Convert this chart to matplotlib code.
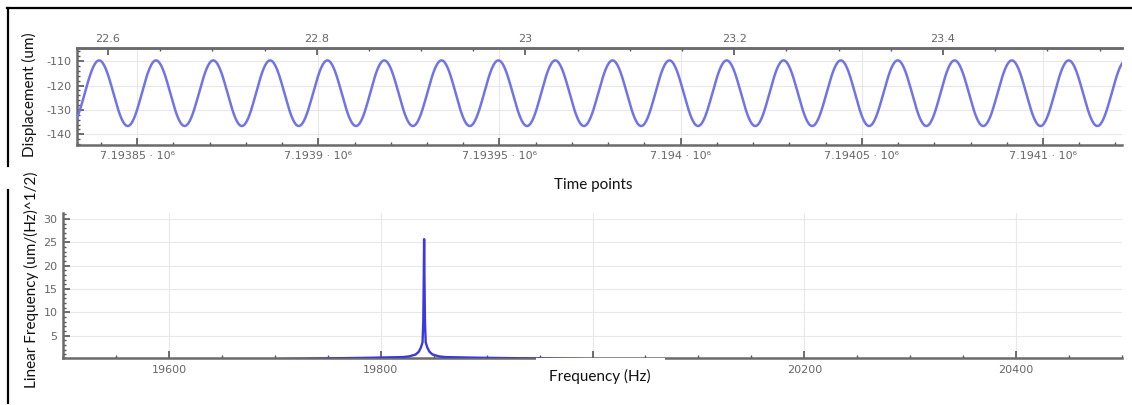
import numpy as np
import matplotlib
matplotlib.use("Agg")
import matplotlib.pyplot as plt
from matplotlib.lines import Line2D
from matplotlib.patches import Rectangle
from matplotlib.ticker import FixedLocator, FixedFormatter, MultipleLocator

# ---------------- data ----------------
# Displacement signal: extrema (time point, displacement um)
peak_times = [7193839.5, 7193855.2, 7193871.0, 7193886.7, 7193902.5, 7193918.2,
              7193934.0, 7193949.7, 7193965.4, 7193981.2, 7193996.9, 7194012.7,
              7194028.4, 7194044.2, 7194059.9, 7194075.6, 7194091.4, 7194107.1,
              7194122.9]
peak_values = [-109.7] * len(peak_times)
trough_times = [7193831.6, 7193847.4, 7193863.1, 7193878.9, 7193894.6, 7193910.4,
                7193926.1, 7193941.8, 7193957.6, 7193973.3, 7193989.1, 7194004.8,
                7194020.6, 7194036.3, 7194052.0, 7194067.8, 7194083.5, 7194099.3,
                7194115.0]
trough_values = [-136.6] * len(trough_times)

time_ticks = [7193850, 7193900, 7193950, 7194000, 7194050, 7194100]
time_tick_labels = ["7.19385 · 10⁶", "7.1939 · 10⁶", "7.19395 · 10⁶",
                    "7.194 · 10⁶", "7.19405 · 10⁶", "7.1941 · 10⁶"]
sec_ticks = [22.6, 22.8, 23.0, 23.2, 23.4]
sec_tick_labels = ["22.6", "22.8", "23", "23.2", "23.4"]
disp_ticks = [-110, -120, -130, -140]
disp_tick_labels = ["-110", "-120", "-130", "-140"]

# Spectrum: frequency (Hz) and linear amplitude
freq = [19500, 19700, 19790, 19800, 19821, 19827, 19833, 19836, 19838, 19839.5,
        19840.2, 19840.6, 19841, 19841.4, 19841.8, 19842.5, 19844, 19846, 19849,
        19855, 19861, 19882, 19895, 20000, 20500]
amp = [0.0, 0.0, 0.3, 0.35, 0.45, 0.6, 1.0, 1.6, 2.5, 3.6,
       8.0, 16.0, 25.7, 16.0, 8.0, 3.6, 2.5, 1.6, 1.0,
       0.6, 0.45, 0.35, 0.3, 0.0, 0.0]
freq_ticks = [19600, 19800, 20000, 20200, 20400]
# the 20000 label is hidden behind the axis title box in the reference
freq_tick_labels = ["19600", "19800", "", "20200", "20400"]
amp_ticks = [5, 10, 15, 20, 25, 30]
amp_tick_labels = ["5", "10", "15", "20", "25", "30"]

# ---------------- figure ----------------
W, H = 1132, 405
fig = plt.figure(figsize=(W / 100, H / 100), dpi=100)
fig.patch.set_facecolor("white")

def fx(px):
    return px / W

def fy(py):
    return 1 - py / H

SPINE = "#6a6a6a"
TICKC = "#555555"
LABC = "#666666"
GRID = "#e8e8e8"
LABEL_FONT = ["Lato", "DejaVu Sans"]

def style_axes(ax, spines_on):
    for s in ["top", "bottom", "left", "right"]:
        ax.spines[s].set_visible(s in spines_on)
        ax.spines[s].set_color(SPINE)
        ax.spines[s].set_linewidth(1.8)
    ax.tick_params(which="both", direction="in", colors=TICKC, labelcolor=LABC,
                   labelsize=8)
    ax.tick_params(which="major", length=5, width=1.2)
    ax.tick_params(which="minor", length=2.5, width=1.0)

# ---- top panel: displacement ----
ax1 = fig.add_axes([fx(77), fy(145), fx(1122 - 77), (145 - 48) / H])
ext_t = sorted(list(zip(peak_times, peak_values)) + list(zip(trough_times, trough_values)))
xs, ys = [], []
for (t0, v0), (t1, v1) in zip(ext_t[:-1], ext_t[1:]):
    s = np.linspace(0, 1, 40)
    xs.extend(t0 + (t1 - t0) * s)
    ys.extend(v0 + (v1 - v0) * (1 - np.cos(np.pi * s)) / 2)
ax1.plot(xs, ys, color="#7273e6", lw=1.8, zorder=3)
ax1.set_xlim(7193833.4, 7194121.8)
ax1.set_ylim(-144.4, -104.6)
style_axes(ax1, ["top", "bottom", "left"])
ax1.xaxis.set_major_locator(FixedLocator(time_ticks))
ax1.xaxis.set_major_formatter(FixedFormatter(time_tick_labels))
ax1.xaxis.set_minor_locator(MultipleLocator(10))
ax1.yaxis.set_major_locator(FixedLocator(disp_ticks))
ax1.yaxis.set_major_formatter(FixedFormatter(disp_tick_labels))
ax1.yaxis.set_minor_locator(MultipleLocator(2))
ax1.tick_params(axis="x", which="both", top=False, pad=4)
ax1.tick_params(axis="y", pad=4)
ax1.grid(True, which="major", color=GRID, lw=0.8)
ax1.set_axisbelow(True)

ax1t = ax1.twiny()
ax1t.set_xlim(22.5703, 23.5715)
style_axes(ax1t, ["top"])
ax1t.xaxis.set_major_locator(FixedLocator(sec_ticks))
ax1t.xaxis.set_major_formatter(FixedFormatter(sec_tick_labels))
ax1t.xaxis.set_minor_locator(MultipleLocator(0.05))
ax1t.tick_params(axis="x", which="both", pad=3)

# ---- bottom panel: spectrum ----
ax2 = fig.add_axes([fx(63), fy(358), fx(1122 - 63), (358 - 213) / H])
ax2.plot(freq, amp, color="#3a3ade", lw=1.7, zorder=3)
ax2.set_xlim(19500, 20500)
ax2.set_ylim(0.25, 31.3)
style_axes(ax2, ["bottom", "left"])
ax2.xaxis.set_major_locator(FixedLocator(freq_ticks))
ax2.xaxis.set_major_formatter(FixedFormatter(freq_tick_labels))
ax2.xaxis.set_minor_locator(MultipleLocator(50))
ax2.yaxis.set_major_locator(FixedLocator(amp_ticks))
ax2.yaxis.set_major_formatter(FixedFormatter(amp_tick_labels))
ax2.yaxis.set_minor_locator(MultipleLocator(1))
ax2.tick_params(axis="x", pad=5)
ax2.tick_params(axis="y", pad=4)
ax2.grid(True, which="major", color=GRID, lw=0.8)
ax2.set_axisbelow(True)

# ---- axis titles ----
fig.text(fx(29), fy(95), "Displacement (um)", rotation=90, ha="center", va="center",
         fontsize=11, family=LABEL_FONT, color="#111111")
fig.text(fx(31), fy(280), "Linear Frequency (um/(Hz)^1/2)", rotation=90, ha="center",
         va="center", fontsize=11, family=LABEL_FONT, color="#111111")
fig.text(fx(593), fy(185), "Time points", ha="center", va="center",
         fontsize=11, family=LABEL_FONT, color="#111111")
# white patch behind the frequency label
fig.add_artist(Rectangle((fx(536), fy(398)), fx(665 - 536), (398 - 358.3) / H,
                         transform=fig.transFigure, facecolor="white",
                         edgecolor="none", zorder=5))
fig.text(fx(600), fy(376), "Frequency (Hz)", ha="center", va="center",
         fontsize=11, family=LABEL_FONT, color="#111111", zorder=6)

# ---- outer frame lines ----
fig.add_artist(Line2D([fx(7), fx(1132)], [fy(8), fy(8)], color="black", lw=1.6,
                      transform=fig.transFigure))
fig.add_artist(Line2D([fx(7.5), fx(7.5)], [fy(8), fy(166)], color="black", lw=1.6,
                      transform=fig.transFigure))
fig.add_artist(Line2D([fx(7.5), fx(7.5)], [fy(190), fy(403)], color="black", lw=1.6,
                      transform=fig.transFigure))

fig.savefig("out.png", dpi=100, facecolor="white")
